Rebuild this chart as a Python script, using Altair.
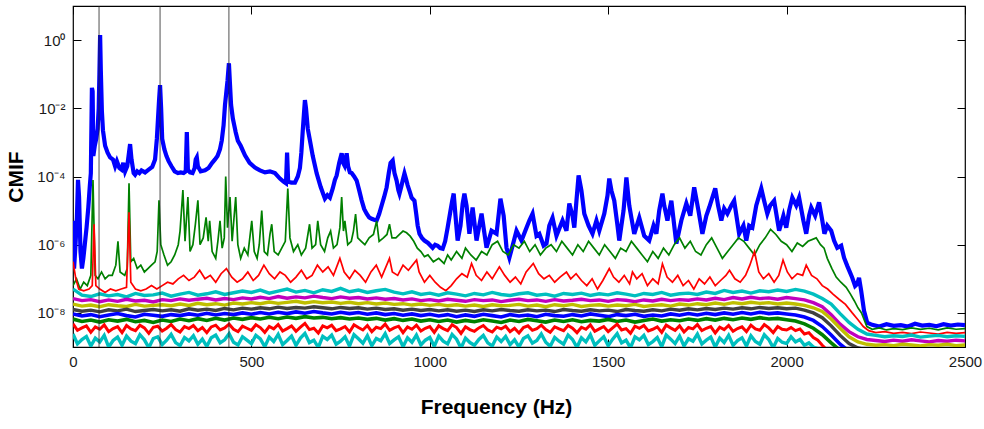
import altair as alt
import pandas as pd

# ---------------- data (log10 of CMIF) ----------------
freq_grid = list(range(0, 2501, 25))          # Hz, 25 Hz spacing
freq_fine = [i * 12.5 for i in range(201)]     # Hz, 12.5 Hz spacing

# 1st singular value curve (thick blue): (Hz, log10 CMIF)
cmif1 = [(0,-5.3),(3,-6.7),(7,-6.0),(11,-5.2),(14,-4.1),(17,-4.6),(21,-6.2),(25,-6.7),(29,-6.4),(33,-6.0),
 (38,-5.5),(43,-4.9),(47,-4.3),(50,-3.9),(53,-1.4),(55,-1.5),(57,-3.4),(61,-3.1),(65,-2.9),(69,-2.6),
 (72,-2.0),(74,-1.0),(76,0.15),(78,-0.9),(81,-2.1),(84,-2.65),(90,-3.1),(97,-3.3),(104,-3.44),(112,-3.5),
 (118,-3.7),(123,-3.55),(130,-3.75),(136,-3.8),(141,-3.6),(146,-3.85),(152,-3.7),(157,-3.3),(160,-3.05),(164,-3.5),
 (170,-3.9),(174,-3.95),(180,-3.85),(186,-3.9),(192,-3.82),(202,-3.88),(212,-3.8),(222,-3.72),(230,-3.5),(235,-2.9),
 (238,-2.35),(241,-1.8),(244,-1.32),(247,-2.0),(250,-2.9),(256,-3.2),(262,-3.4),(268,-3.55),(276,-3.7),(285,-3.85),
 (294,-3.9),(302,-3.88),(310,-3.9),(316,-3.85),(319,-2.7),(322,-3.8),(328,-3.88),(335,-3.9),(341,-3.75),(344,-3.5),
 (347,-3.44),(350,-3.7),(358,-3.85),(370,-3.82),(380,-3.75),(390,-3.6),(398,-3.5),(405,-3.4),(412,-3.2),(417,-2.94),
 (422,-2.5),(426,-1.9),(429,-1.6),(433,-1.2),(437,-0.68),(440,-1.3),(443,-1.9),(448,-2.3),(452,-2.5),(456,-2.7),
 (462,-2.95),(470,-3.1),(482,-3.38),(495,-3.6),(510,-3.74),(524,-3.82),(538,-3.88),(552,-3.85),(566,-3.9),(580,-4.06),
 (590,-4.15),(597,-4.2),(600,-3.3),(603,-4.15),(612,-4.18),(622,-4.18),(630,-4.0),(636,-3.75),(640,-3.3),(644,-2.65),
 (647,-2.2),(650,-1.76),(653,-2.0),(658,-2.6),(664,-2.94),(672,-3.4),(683,-3.91),(694,-4.3),(706,-4.65),(713,-4.55),
 (720,-4.62),(728,-4.35),(734,-4.1),(739,-3.97),(746,-3.6),(753,-3.32),(757,-3.6),(761,-3.68),(764,-3.5),(767,-3.32),
 (771,-3.7),(776,-3.88),(781,-3.9),(788,-4.0),(795,-4.12),(802,-4.4),(809,-4.7),(816,-4.95),(823,-5.09),(830,-5.2),
 (837,-5.24),(844,-5.27),(851,-5.29),(858,-5.1),(865,-4.85),(872,-4.6),(879,-4.32),(885,-3.9),(890,-3.6),(896,-3.53),
 (901,-3.9),(907,-4.12),(912,-4.4),(915,-4.5),(920,-4.3),(924,-4.12),(929,-3.91),(934,-4.1),(938,-4.26),(944,-4.45),
 (949,-4.62),(957,-4.71),(962,-5.1),(966,-5.44),(971,-5.68),(978,-5.8),(985,-5.88),(995,-5.95),(1008,-6.09),(1015,-6.0),
 (1022,-6.03),(1029,-6.1),(1036,-6.12),(1043,-5.9),(1050,-5.5),(1058,-5.0),(1063,-4.7),(1067,-4.5),(1072,-5.15),(1078,-5.88),
 (1086,-5.44),(1092,-4.8),(1097,-4.5),(1103,-4.85),(1111,-5.68),(1120,-4.91),(1131,-5.88),(1145,-5.09),(1159,-6.09),(1173,-5.59),
 (1187,-5.68),(1198,-4.65),(1207,-5.15),(1215,-6.09),(1223,-6.38),(1232,-6.03),(1243,-5.59),(1257,-5.88),(1271,-5.5),(1279,-5.29),
 (1288,-5.09),(1299,-5.74),(1307,-5.68),(1319,-6.03),(1327,-5.97),(1335,-5.44),(1344,-5.21),(1355,-5.74),(1372,-5.29),(1383,-5.59),
 (1391,-4.79),(1400,-5.15),(1405,-5.5),(1411,-4.71),(1417,-3.97),(1425,-4.41),(1433,-5.09),(1445,-5.44),(1456,-5.68),(1467,-5.29),
 (1475,-5.59),(1489,-5.09),(1498,-4.56),(1503,-4.06),(1509,-4.41),(1517,-4.71),(1526,-5.44),(1531,-5.88),(1543,-5.0),(1551,-4.03),
 (1559,-4.85),(1565,-5.21),(1573,-5.68),(1587,-5.21),(1601,-5.74),(1615,-5.88),(1627,-5.44),(1635,-5.68),(1643,-5.0),(1652,-4.5),
 (1657,-4.85),(1666,-5.29),(1677,-4.71),(1691,-5.97),(1705,-5.29),(1719,-4.79),(1730,-5.15),(1741,-4.32),(1753,-5.0),(1764,-5.68),
 (1775,-5.15),(1783,-4.91),(1800,-4.35),(1808,-4.85),(1817,-5.29),(1825,-4.94),(1834,-5.09),(1845,-4.85),(1853,-4.71),(1867,-5.68),
 (1879,-5.44),(1887,-5.88),(1895,-5.44),(1904,-5.5),(1915,-4.85),(1929,-4.35),(1937,-4.71),(1946,-5.09),(1954,-4.85),(1965,-4.71),
 (1979,-5.59),(1991,-5.15),(1999,-5.5),(2007,-5.0),(2016,-4.62),(2027,-4.85),(2035,-4.62),(2047,-5.29),(2055,-5.68),(2063,-5.15),
 (2069,-4.91),(2080,-5.15),(2091,-4.76),(2100,-5.29),(2106,-5.68),(2114,-5.44),(2125,-5.59),(2133,-5.88),(2142,-6.09),(2153,-6.03),
 (2161,-6.38),(2170,-6.62),(2178,-6.82),(2184,-6.97),(2192,-7.21),(2198,-7.15),(2203,-6.97),(2209,-7.35),(2217,-7.94),(2226,-8.29),
 (2240,-8.35),(2260,-8.4),(2280,-8.33),(2300,-8.38),(2320,-8.36),(2340,-8.4),(2360,-8.32),(2380,-8.37),(2400,-8.35),(2420,-8.39),
 (2440,-8.33),(2460,-8.37),(2480,-8.34),(2500,-8.36)]

# 2nd curve (green) with its sharp peaks
cmif2 = [(0,-7.2),(10,-7.0),(20,-7.3),(30,-7.1),(40,-7.2),(50,-6.9),(56,-4.1),(62,-6.9),(70,-7.0),(80,-6.8),
 (90,-7.0),(100,-6.9),(110,-6.9),(120,-6.6),(126,-5.9),(132,-6.8),(145,-6.9),(152,-6.7),(157,-4.2),(162,-6.5),
 (170,-6.4),(180,-6.7),(190,-6.6),(200,-6.8),(210,-6.7),(220,-6.6),(230,-6.5),(236,-6.2),(241,-4.7),(246,-6.0),
 (255,-6.3),(265,-6.6),(275,-6.5),(285,-6.3),(295,-6.0),(300,-5.6),(308,-4.4),(314,-5.9),(322,-4.6),(328,-6.2),
 (336,-6.0),(343,-5.4),(350,-4.7),(356,-6.0),(365,-5.8),(373,-5.2),(379,-5.9),(383,-5.3),(390,-6.2),(400,-6.4),
 (406,-5.9),(412,-5.3),(418,-6.1),(424,-5.8),(428,-4.0),(433,-5.5),(440,-4.6),(446,-5.9),(456,-4.6),(462,-6.0),
 (470,-6.4),(480,-6.1),(490,-6.3),(501,-5.3),(508,-6.2),(516,-6.4),(522,-6.0),(529,-5.0),(536,-6.2),(545,-6.3),
 (552,-5.7),(557,-5.4),(564,-6.2),(575,-6.3),(585,-6.1),(595,-5.9),(602,-4.35),(608,-5.8),(618,-6.2),(630,-6.0),
 (640,-6.3),(652,-6.1),(663,-5.4),(670,-6.1),(680,-6.0),(686,-5.3),(694,-6.0),(705,-6.2),(714,-5.8),(722,-5.6),
 (730,-6.1),(740,-6.0),(748,-5.5),(753,-4.6),(758,-5.6),(762,-5.3),(770,-6.0),(780,-5.9),(786,-5.6),(792,-5.1),
 (798,-5.8),(808,-5.9),(818,-6.0),(830,-5.8),(842,-5.7),(851,-5.3),(858,-5.9),(870,-5.8),(880,-5.7),(887,-5.4),
 (894,-5.8),(905,-5.8),(915,-5.7),(925,-5.6),(935,-5.65),(945,-5.75),(955,-5.9),(965,-6.1),(975,-6.2),(985,-6.35),
 (995,-6.3),(1010,-6.5),(1025,-6.4),(1040,-6.55),(1050,-6.3),(1060,-6.45),(1075,-6.2),(1090,-6.4),(1100,-6.1),(1115,-6.3),
 (1130,-6.45),(1145,-6.2),(1160,-6.3),(1175,-6.0),(1190,-5.9),(1205,-6.2),(1220,-6.3),(1235,-6.0),(1250,-6.1),(1265,-5.9),
 (1280,-6.2),(1295,-6.0),(1310,-6.3),(1325,-6.1),(1340,-6.0),(1355,-6.2),(1370,-5.9),(1385,-6.1),(1400,-6.3),(1415,-6.0),
 (1430,-6.2),(1445,-5.9),(1460,-6.1),(1475,-6.3),(1490,-6.0),(1505,-6.2),(1520,-6.4),(1535,-6.1),(1550,-6.2),(1565,-5.9),
 (1580,-6.1),(1595,-6.3),(1610,-6.5),(1625,-6.2),(1640,-6.4),(1655,-6.1),(1670,-6.3),(1685,-6.0),(1700,-5.8),(1715,-6.1),
 (1730,-5.9),(1745,-6.2),(1760,-6.3),(1775,-6.0),(1790,-5.8),(1805,-6.1),(1820,-6.4),(1835,-6.2),(1850,-6.0),(1865,-5.8),
 (1880,-5.9),(1895,-6.1),(1910,-6.3),(1925,-6.0),(1940,-5.8),(1955,-5.55),(1970,-5.7),(1985,-5.9),(2000,-6.0),(2015,-6.2),
 (2030,-5.95),(2045,-6.05),(2060,-5.9),(2083,-5.8),(2095,-6.0),(2105,-6.1),(2114,-6.4),(2127,-6.7),(2139,-6.95),(2152,-7.1),
 (2167,-7.25),(2179,-7.45),(2190,-7.65),(2200,-7.85),(2210,-8.0),(2225,-8.4),(2240,-8.48),(2260,-8.44),(2280,-8.5),(2300,-8.46),
 (2325,-8.49),(2350,-8.44),(2375,-8.48),(2400,-8.45),(2425,-8.5),(2450,-8.44),(2475,-8.48),(2500,-8.46)]

# 3rd curve (red)
cmif3 = [(0,-6.5),(8,-7.0),(16,-7.3),(30,-7.35),(45,-7.3),(54,-7.2),(59,-5.4),(64,-7.2),(75,-7.3),(90,-7.4),
 (105,-7.3),(120,-7.35),(135,-7.3),(150,-7.25),(157,-5.05),(162,-7.1),(175,-7.3),(190,-7.35),(205,-7.3),(220,-7.2),
 (235,-7.3),(250,-7.2),(265,-7.1),(280,-7.15),(295,-7.0),(310,-6.9),(325,-7.05),(340,-6.95),(355,-6.75),(370,-7.0),
 (385,-6.9),(400,-7.1),(415,-6.85),(430,-6.7),(445,-6.95),(460,-7.1),(475,-7.0),(490,-6.8),(505,-7.05),(520,-6.9),
 (535,-6.6),(550,-6.85),(565,-7.0),(580,-6.8),(595,-6.9),(610,-7.1),(625,-6.95),(640,-6.75),(655,-7.0),(670,-6.9),
 (685,-6.6),(700,-6.8),(715,-6.65),(730,-6.9),(748,-6.4),(760,-6.8),(775,-7.0),(790,-6.75),(805,-6.9),(820,-7.1),
 (835,-6.8),(850,-6.6),(865,-6.95),(887,-6.4),(895,-6.8),(910,-6.9),(925,-6.6),(940,-6.75),(963,-6.45),(970,-6.8),
 (985,-7.1),(1000,-6.9),(1015,-7.1),(1030,-7.25),(1045,-7.35),(1060,-7.2),(1075,-7.0),(1090,-6.85),(1105,-6.95),(1117,-6.55),
 (1130,-6.9),(1145,-7.05),(1160,-6.8),(1175,-7.0),(1195,-6.65),(1210,-6.9),(1225,-7.1),(1240,-6.95),(1255,-7.15),(1270,-6.8),
 (1290,-6.55),(1305,-6.85),(1320,-7.0),(1335,-6.9),(1350,-7.1),(1365,-6.95),(1383,-6.8),(1395,-7.0),(1410,-6.85),(1425,-7.05),
 (1440,-7.2),(1455,-7.0),(1470,-7.3),(1485,-7.05),(1503,-6.7),(1515,-6.95),(1530,-7.1),(1545,-6.9),(1560,-7.15),(1568,-6.8),
 (1580,-7.0),(1595,-6.85),(1610,-7.2),(1625,-7.0),(1640,-7.15),(1652,-6.56),(1665,-6.95),(1680,-7.1),(1695,-6.9),(1710,-7.2),
 (1725,-7.05),(1740,-7.3),(1755,-7.0),(1770,-7.15),(1785,-6.95),(1800,-7.2),(1815,-7.05),(1830,-6.9),(1840,-6.75),(1855,-7.0),
 (1870,-7.1),(1885,-6.9),(1897,-6.6),(1910,-6.2),(1922,-6.8),(1935,-7.0),(1950,-6.85),(1965,-7.1),(1978,-6.9),(1990,-6.45),
 (2002,-6.8),(2015,-7.0),(2030,-6.85),(2045,-6.9),(2055,-6.6),(2070,-6.9),(2085,-7.0),(2100,-7.2),(2115,-7.3),(2130,-7.45),
 (2147,-7.6),(2165,-7.75),(2184,-8.0),(2200,-8.2),(2215,-8.4),(2230,-8.52),(2250,-8.58),(2275,-8.55),(2300,-8.6),(2325,-8.57),
 (2350,-8.61),(2375,-8.56),(2400,-8.59),(2425,-8.62),(2450,-8.57),(2475,-8.6),(2500,-8.58)]

# lower curves 4..9, sampled every 25 Hz (log10 CMIF)
cmif4 = [-7.30,-7.48,-7.52,-7.44,-7.50,-7.46,-7.53,-7.43,-7.49,-7.47,
 -7.42,-7.51,-7.45,-7.40,-7.48,-7.44,-7.38,-7.46,-7.41,-7.36,
 -7.40,-7.33,-7.42,-7.36,-7.30,-7.39,-7.34,-7.41,-7.32,-7.37,
 -7.28,-7.38,-7.33,-7.40,-7.35,-7.31,-7.39,-7.44,-7.38,-7.46,
 -7.42,-7.48,-7.41,-7.45,-7.50,-7.43,-7.47,-7.40,-7.46,-7.49,
 -7.44,-7.41,-7.48,-7.45,-7.51,-7.43,-7.46,-7.42,-7.49,-7.44,
 -7.47,-7.41,-7.45,-7.50,-7.43,-7.46,-7.40,-7.48,-7.44,-7.42,
 -7.46,-7.39,-7.43,-7.34,-7.40,-7.36,-7.42,-7.35,-7.38,-7.33,
 -7.37,-7.31,-7.36,-7.45,-7.58,-7.74,-8.02,-8.28,-8.48,-8.62,
 -8.66,-8.70,-8.67,-8.69,-8.65,-8.71,-8.68,-8.66,-8.70,-8.67,-8.69]
cmif5 = [-7.58,-7.64,-7.61,-7.67,-7.62,-7.66,-7.60,-7.65,-7.63,-7.68,
 -7.61,-7.64,-7.59,-7.63,-7.60,-7.57,-7.62,-7.58,-7.61,-7.56,
 -7.59,-7.54,-7.58,-7.52,-7.57,-7.53,-7.56,-7.51,-7.55,-7.58,
 -7.53,-7.57,-7.55,-7.59,-7.56,-7.60,-7.58,-7.62,-7.59,-7.64,
 -7.61,-7.65,-7.60,-7.63,-7.66,-7.61,-7.64,-7.62,-7.67,-7.63,
 -7.60,-7.64,-7.62,-7.66,-7.61,-7.65,-7.63,-7.60,-7.64,-7.62,
 -7.66,-7.61,-7.63,-7.67,-7.62,-7.65,-7.60,-7.64,-7.61,-7.63,
 -7.59,-7.62,-7.57,-7.61,-7.55,-7.59,-7.54,-7.58,-7.56,-7.60,
 -7.55,-7.58,-7.62,-7.70,-7.82,-8.05,-8.33,-8.55,-8.70,-8.78,
 -8.81,-8.84,-8.80,-8.83,-8.79,-8.82,-8.85,-8.81,-8.83,-8.80,-8.82]
cmif6 = [-7.74,-7.80,-7.77,-7.82,-7.76,-7.79,-7.81,-7.75,-7.80,-7.78,
 -7.76,-7.79,-7.74,-7.78,-7.72,-7.76,-7.73,-7.77,-7.71,-7.74,
 -7.70,-7.73,-7.68,-7.72,-7.69,-7.66,-7.71,-7.67,-7.70,-7.68,
 -7.72,-7.69,-7.73,-7.70,-7.74,-7.71,-7.75,-7.73,-7.77,-7.74,
 -7.78,-7.75,-7.79,-7.76,-7.80,-7.77,-7.81,-7.76,-7.79,-7.78,
 -7.75,-7.80,-7.77,-7.82,-7.76,-7.79,-7.75,-7.81,-7.78,-7.76,
 -7.80,-7.77,-7.79,-7.75,-7.81,-7.78,-7.76,-7.80,-7.74,-7.77,
 -7.73,-7.76,-7.71,-7.75,-7.70,-7.73,-7.69,-7.72,-7.70,-7.74,
 -7.71,-7.74,-7.78,-7.85,-7.96,-8.18,-8.45,-8.70,-8.85,-8.92,
 -8.95,-8.93,-8.96,-8.92,-8.94,-8.97,-8.93,-8.95,-8.92,-8.96,-8.94]
cmif7 = [-7.90,-7.95,-7.92,-7.97,-7.91,-7.94,-7.89,-7.96,-7.93,-7.90,
 -7.94,-7.91,-7.95,-7.88,-7.92,-7.89,-7.93,-7.87,-7.91,-7.86,
 -7.89,-7.85,-7.88,-7.83,-7.87,-7.84,-7.86,-7.82,-7.85,-7.88,
 -7.84,-7.87,-7.85,-7.89,-7.86,-7.90,-7.88,-7.92,-7.89,-7.93,
 -7.90,-7.94,-7.91,-7.95,-7.92,-7.96,-7.91,-7.94,-7.90,-7.93,
 -7.95,-7.91,-7.94,-7.92,-7.96,-7.90,-7.93,-7.95,-7.91,-7.94,
 -7.92,-7.96,-7.90,-7.93,-7.95,-7.91,-7.94,-7.89,-7.92,-7.88,
 -7.91,-7.87,-7.90,-7.86,-7.89,-7.85,-7.88,-7.84,-7.87,-7.85,
 -7.88,-7.86,-7.92,-8.00,-8.14,-8.38,-8.66,-8.90,-9.03,-9.08,
 -9.10,-9.07,-9.11,-9.08,-9.10,-9.06,-9.09,-9.11,-9.08,-9.10,-9.07]
cmif8 = [-8.03,-8.09,-8.05,-8.11,-8.06,-8.02,-8.08,-8.12,-8.04,-8.07,
 -8.10,-8.05,-8.08,-8.03,-8.07,-8.01,-8.06,-8.02,-8.05,-8.00,
 -8.04,-7.99,-8.03,-7.98,-8.02,-7.97,-8.01,-7.96,-8.00,-8.03,
 -7.98,-8.02,-7.99,-8.04,-8.00,-8.05,-8.02,-8.07,-8.03,-8.08,
 -8.04,-8.09,-8.05,-8.11,-8.06,-8.10,-8.04,-8.08,-8.12,-8.05,
 -8.09,-8.06,-8.11,-8.04,-8.08,-8.10,-8.05,-8.09,-8.03,-8.07,
 -8.11,-8.05,-8.08,-8.04,-8.10,-8.06,-8.09,-8.03,-8.07,-8.02,
 -8.06,-8.01,-8.05,-8.00,-8.04,-7.99,-8.03,-7.98,-8.02,-8.00,
 -8.03,-8.06,-8.12,-8.22,-8.40,-8.65,-8.92,-9.12,-9.25,-9.30,
 -9.32,-9.29,-9.33,-9.30,-9.31,-9.28,-9.32,-9.30,-9.33,-9.29,-9.31]
cmif9 = [-8.18,-8.25,-8.21,-8.27,-8.20,-8.24,-8.19,-8.26,-8.22,-8.28,
 -8.21,-8.25,-8.18,-8.23,-8.17,-8.22,-8.16,-8.21,-8.15,-8.19,
 -8.14,-8.18,-8.13,-8.17,-8.12,-8.16,-8.11,-8.15,-8.13,-8.17,
 -8.14,-8.18,-8.15,-8.19,-8.16,-8.21,-8.17,-8.22,-8.18,-8.24,
 -8.20,-8.25,-8.21,-8.27,-8.22,-8.26,-8.20,-8.24,-8.28,-8.21,
 -8.25,-8.19,-8.23,-8.27,-8.21,-8.25,-8.20,-8.26,-8.22,-8.24,
 -8.19,-8.25,-8.21,-8.27,-8.22,-8.18,-8.24,-8.20,-8.23,-8.18,
 -8.22,-8.17,-8.21,-8.16,-8.20,-8.15,-8.19,-8.14,-8.18,-8.16,
 -8.20,-8.24,-8.32,-8.45,-8.64,-8.88,-9.10,-9.28,-9.38,-9.42,
 -9.44,-9.41,-9.45,-9.42,-9.43,-9.40,-9.44,-9.42,-9.45,-9.41,-9.43]

# lowest visible curves 10 and 11, sampled every 12.5 Hz (log10 CMIF)
cmif10 = [-8.32,-8.51,-8.44,-8.38,-8.57,-8.41,-8.48,-8.35,-8.55,-8.46,
 -8.40,-8.58,-8.37,-8.47,-8.52,-8.36,-8.44,-8.60,-8.42,-8.39,
 -8.53,-8.45,-8.34,-8.49,-8.56,-8.40,-8.46,-8.37,-8.52,-8.43,
 -8.58,-8.41,-8.36,-8.50,-8.44,-8.33,-8.48,-8.55,-8.39,-8.45,
 -8.51,-8.35,-8.43,-8.57,-8.40,-8.47,-8.34,-8.53,-8.46,-8.38,
 -8.54,-8.42,-8.31,-8.49,-8.45,-8.59,-8.38,-8.44,-8.36,-8.52,
 -8.47,-8.40,-8.56,-8.35,-8.43,-8.50,-8.37,-8.55,-8.42,-8.46,
 -8.33,-8.51,-8.44,-8.39,-8.58,-8.41,-8.48,-8.36,-8.53,-8.45,
 -8.40,-8.57,-8.38,-8.46,-8.52,-8.35,-8.43,-8.60,-8.41,-8.49,
 -8.54,-8.44,-8.37,-8.50,-8.56,-8.42,-8.47,-8.39,-8.55,-8.45,
 -8.59,-8.43,-8.38,-8.51,-8.46,-8.36,-8.49,-8.57,-8.41,-8.47,
 -8.52,-8.37,-8.45,-8.58,-8.42,-8.48,-8.35,-8.54,-8.47,-8.40,
 -8.55,-8.44,-8.33,-8.50,-8.46,-8.60,-8.39,-8.45,-8.37,-8.53,
 -8.48,-8.41,-8.57,-8.36,-8.44,-8.51,-8.38,-8.56,-8.43,-8.47,
 -8.34,-8.52,-8.45,-8.40,-8.59,-8.42,-8.49,-8.37,-8.54,-8.46,
 -8.41,-8.55,-8.36,-8.47,-8.51,-8.34,-8.44,-8.58,-8.40,-8.48,
 -8.50,-8.43,-8.52,-8.47,-8.62,-8.58,-8.72,-8.80,-8.95,-9.08,
 -9.20,-9.30,-9.40,-9.50,-9.55,-9.60,-9.60,-9.60,-9.60,-9.60,
 -9.60,-9.60,-9.60,-9.60,-9.60,-9.60,-9.60,-9.60,-9.60,-9.60,
 -9.60,-9.60,-9.60,-9.60,-9.60,-9.60,-9.60,-9.60,-9.60,-9.60,
 -9.60]
cmif11 = [-8.62,-8.91,-8.78,-8.69,-8.97,-8.74,-8.85,-8.66,-9.00,-8.81,
 -8.71,-8.95,-8.68,-8.83,-8.90,-8.64,-8.79,-9.02,-8.75,-8.70,
 -8.93,-8.80,-8.63,-8.87,-8.96,-8.72,-8.82,-8.67,-8.92,-8.77,
 -8.98,-8.73,-8.65,-8.88,-8.79,-8.61,-8.86,-8.94,-8.70,-8.80,
 -8.90,-8.66,-8.76,-8.99,-8.71,-8.84,-8.63,-8.93,-8.81,-8.68,
 -8.95,-8.74,-8.60,-8.87,-8.80,-9.01,-8.69,-8.78,-8.65,-8.92,
 -8.83,-8.70,-8.97,-8.64,-8.76,-8.89,-8.67,-8.96,-8.75,-8.82,
 -8.61,-8.90,-8.79,-8.70,-8.99,-8.73,-8.86,-8.65,-8.94,-8.80,
 -8.72,-8.98,-8.68,-8.83,-8.91,-8.63,-8.77,-9.03,-8.74,-8.87,
 -8.95,-8.78,-8.66,-8.88,-8.97,-8.71,-8.84,-8.69,-8.93,-8.79,
 -9.00,-8.75,-8.67,-8.89,-8.81,-8.62,-8.86,-8.98,-8.72,-8.83,
 -8.92,-8.65,-8.78,-9.01,-8.73,-8.85,-8.64,-8.95,-8.82,-8.70,
 -8.96,-8.77,-8.61,-8.88,-8.80,-9.02,-8.70,-8.79,-8.66,-8.93,
 -8.84,-8.72,-8.99,-8.65,-8.77,-8.90,-8.68,-8.97,-8.76,-8.83,
 -8.62,-8.91,-8.80,-8.71,-9.00,-8.74,-8.87,-8.66,-8.95,-8.81,
 -8.73,-8.97,-8.67,-8.84,-8.92,-8.64,-8.78,-9.02,-8.75,-8.86,
 -8.90,-8.70,-8.85,-8.78,-8.95,-8.88,-9.00,-9.05,-9.15,-9.25,
 -9.35,-9.45,-9.55,-9.65,-9.75,-9.85,-9.90,-9.90,-9.90,-9.90,
 -9.90,-9.90,-9.90,-9.90,-9.90,-9.90,-9.90,-9.90,-9.90,-9.90,
 -9.90,-9.90,-9.90,-9.90,-9.90,-9.90,-9.90,-9.90,-9.90,-9.90,
 -9.90]

# frequencies marked with vertical lines (Hz)
marker_freqs = [73, 244, 437]

x_ticks = [0, 500, 1000, 1500, 2000, 2500]
y_ticks = [1e-8, 1e-6, 1e-4, 1e-2, 1]

series_colors = ["#0000ff", "#008000", "#ff0000", "#00bfbf", "#bf00bf",
                 "#bfbf00", "#404040", "#0000ff", "#008000", "#ff0000", "#00bfbf"]
series_widths = [4.2, 1.7, 1.7, 3.4, 3.4, 3.4, 3.4, 3.6, 3.6, 3.0, 3.4]

# ---------------- build tables ----------------
def pairs_df(pts):
    return pd.DataFrame({"f": [p[0] for p in pts], "e": [p[1] for p in pts]})

tables = [pairs_df(cmif1), pairs_df(cmif2), pairs_df(cmif3)]
for arr in [cmif4, cmif5, cmif6, cmif7, cmif8, cmif9]:
    tables.append(pd.DataFrame({"f": freq_grid, "e": arr}))
for arr in [cmif10, cmif11]:
    tables.append(pd.DataFrame({"f": freq_fine, "e": arr}))
for t in tables:
    t["v"] = 10.0 ** t["e"]

FONT = "Liberation Sans"
xs = alt.Scale(domain=[0, 2500], nice=False, zero=False)
ys = alt.Scale(type="log", domain=[1e-9, 10], nice=False)

sup = ("datum.value > 0.1 ? '10\u2070' : datum.value > 0.001 ? '10\u207b\u00b2' : "
       "datum.value > 0.00001 ? '10\u207b\u2074' : datum.value > 0.0000001 ? '10\u207b\u2076' : '10\u207b\u2078'")

ax_bottom = alt.Axis(orient="bottom", values=x_ticks, format="d", tickSize=8, offset=-8,
                     domain=False, grid=False, tickColor="black", labelColor="#1a1a1a",
                     labelFont=FONT, labelFontSize=15, labelPadding=7, labelFlush=False,
                     title="Frequency (Hz)", titleFont=FONT, titleFontSize=21,
                     titleFontWeight="bold", titleColor="black", titlePadding=27,
                     titleX=423, titleAnchor="start", titleAlign="center")
ax_left = alt.Axis(orient="left", values=y_ticks, labelExpr=sup, tickSize=8, offset=-8,
                   domain=False, grid=False, tickColor="black", labelColor="#1a1a1a",
                   labelFont=FONT, labelFontSize=15, labelPadding=8,
                   title="CMIF", titleFont=FONT, titleFontSize=21, titleFontWeight="bold",
                   titleColor="black", titlePadding=10)
ax_top = alt.Axis(orient="top", values=x_ticks, tickSize=8, offset=-8, labels=False,
                  domain=False, grid=False, tickColor="black", title=None)
ax_right = alt.Axis(orient="right", values=y_ticks, tickSize=8, offset=-8, labels=False,
                    domain=False, grid=False, tickColor="black", title=None)

layers = []
for i, t in enumerate(tables):
    if i == 0:
        xa, ya = ax_top, ax_right
    elif i == 1:
        xa, ya = ax_bottom, ax_left
    else:
        xa, ya = None, None
    layers.append(
        alt.Chart(t).mark_line(color=series_colors[i], strokeWidth=series_widths[i],
                               clip=True, strokeJoin="miter").encode(
            x=alt.X("f:Q", scale=xs, axis=xa),
            y=alt.Y("v:Q", scale=ys, axis=ya),
        )
    )

rules = alt.Chart(pd.DataFrame({"f": marker_freqs})).mark_rule(
    color="#222222", strokeWidth=0.8).encode(x=alt.X("f:Q", scale=xs, axis=None))
layers.append(rules)

chart = alt.layer(*layers).resolve_axis(x="independent", y="independent").properties(
    width=892, height=341,
    autosize=alt.AutoSizeParams(type="none"),
    padding={"left": 73, "top": 6, "right": 19, "bottom": 82},
    background="white",
).configure_view(stroke="black", strokeWidth=1.2)

chart.save("out.html", embed_options={"renderer": "svg", "actions": False})
